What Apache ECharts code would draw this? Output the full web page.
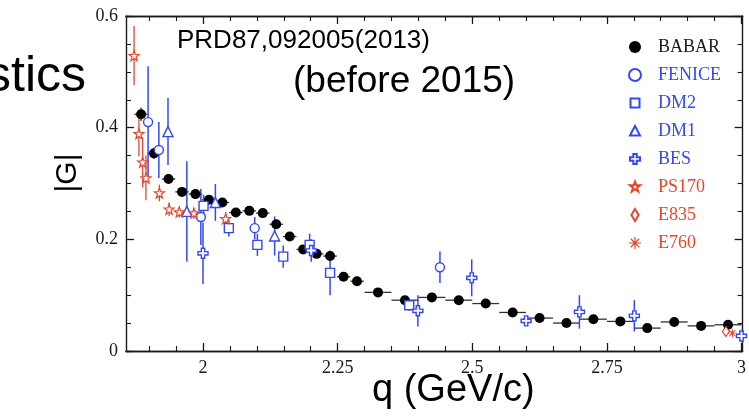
<!DOCTYPE html>
<html>
<head>
<meta charset="utf-8">
<script src="https://cdn.jsdelivr.net/npm/echarts@6/dist/echarts.min.js"></script>
<style>
  html, body { margin: 0; padding: 0; background: #fff; }
  #chart { width: 749px; height: 416px; }
</style>
</head>
<body>
<div id="chart"></div>
<script>
// Proton form factor |G| versus q; each row is [q, |G|, d|G|, dq]
const BABAR = [
  [1.885, 0.424, 0.012, 0.0125], [1.909, 0.354, 0.010, 0.0125], [1.936, 0.308, 0.008, 0.0125],
  [1.961, 0.285, 0.007, 0.0125], [1.986, 0.281, 0.007, 0.0125], [2.011, 0.271, 0.006, 0.0125],
  [2.036, 0.266, 0.006, 0.0125], [2.061, 0.248, 0.006, 0.0125], [2.086, 0.251, 0.006, 0.0125],
  [2.111, 0.247, 0.006, 0.0125], [2.136, 0.227, 0.008, 0.0125], [2.161, 0.205, 0.006, 0.0125],
  [2.186, 0.182, 0.006, 0.0125], [2.211, 0.174, 0.006, 0.0125], [2.236, 0.170, 0.008, 0.0125],
  [2.261, 0.133, 0.006, 0.0125], [2.286, 0.125, 0.006, 0.0125], [2.325, 0.105, 0.005, 0.025],
  [2.375, 0.091, 0.005, 0.025], [2.425, 0.096, 0.005, 0.025], [2.475, 0.091, 0.005, 0.025],
  [2.525, 0.085, 0.005, 0.025], [2.575, 0.069, 0.005, 0.025], [2.625, 0.059, 0.005, 0.025],
  [2.675, 0.050, 0.005, 0.025], [2.725, 0.057, 0.005, 0.025], [2.775, 0.053, 0.005, 0.025],
  [2.825, 0.041, 0.005, 0.025], [2.875, 0.052, 0.005, 0.025], [2.925, 0.045, 0.005, 0.025],
  [2.975, 0.047, 0.005, 0.025]
];
const FENICE = [
  [1.898, 0.410, 0.100, 0], [1.918, 0.360, 0.050, 0], [1.996, 0.240, 0.050, 0],
  [2.096, 0.220, 0.020, 0], [2.440, 0.150, 0.028, 0]
];
const DM2 = [
  [2.001, 0.260, 0.020, 0], [2.048, 0.220, 0.015, 0], [2.101, 0.190, 0.020, 0],
  [2.149, 0.169, 0.020, 0], [2.198, 0.190, 0.020, 0], [2.236, 0.140, 0.040, 0],
  [2.383, 0.082, 0.010, 0]
];
const DM1 = [
  [1.935, 0.393, 0.060, 0], [1.970, 0.250, 0.090, 0], [2.023, 0.266, 0.033, 0],
  [2.133, 0.206, 0.035, 0]
];
const BES = [
  [2.000, 0.175, 0.055, 0], [2.201, 0.180, 0.020, 0], [2.399, 0.072, 0.028, 0],
  [2.499, 0.131, 0.033, 0], [2.600, 0.054, 0.006, 0], [2.699, 0.070, 0.030, 0],
  [2.801, 0.063, 0.028, 0], [3.000, 0.027, 0.006, 0]
];
const PS170 = [
  [1.872, 0.529, 0.053, 0], [1.881, 0.389, 0.040, 0], [1.888, 0.338, 0.045, 0],
  [1.894, 0.310, 0.040, 0], [1.919, 0.283, 0.015, 0], [1.937, 0.254, 0.012, 0],
  [1.956, 0.249, 0.010, 0], [1.983, 0.247, 0.010, 0], [2.042, 0.237, 0.012, 0]
];
const E835 = [[2.971, 0.035, 0.004, 0]];
const E760 = [[2.983, 0.032, 0.004, 0]];

const xMajorTicks = [2, 2.25, 2.5, 2.75, 3];
const xMinorTicks = [1.9, 1.95, 2.05, 2.1, 2.15, 2.2, 2.3, 2.35, 2.4, 2.45,
                     2.55, 2.6, 2.65, 2.7, 2.8, 2.85, 2.9, 2.95];

const BLUE = '#3448f2';
const RED = '#e4472c';
const INK = '#1a1a1a';

const STAR = 'path://M0,-10L2.35,-3.24L9.51,-3.09L3.8,1.24L5.88,8.09L0,4L-5.88,8.09L-3.8,1.24L-9.51,-3.09L-2.35,-3.24Z';
const PLUS = 'path://M-1,-3L1,-3L1,-1L3,-1L3,1L1,1L1,3L-1,3L-1,1L-3,1L-3,-1L-1,-1Z';
const ASTER = 'path://M-0.5,-5L0.5,-5L0.5,5L-0.5,5Z M-5,-0.5L5,-0.5L5,0.5L-5,0.5Z ' +
  'M-3.18,-3.89L3.89,3.18L3.18,3.89L-3.89,-3.18Z M-3.89,3.18L3.18,-3.89L3.89,-3.18L-3.18,3.89Z';
// Square-boxed icon shapes for the legend so they keep their proportions
const ICON_RECT = 'path://M-6,-6 M6,6 M-4.5,-4.5L4.5,-4.5L4.5,4.5L-4.5,4.5Z';
const ICON_TRI = 'path://M-6,-6 M6,6 M0,-5L5,4.5L-5,4.5Z';
const ICON_DIAMOND = 'path://M-6,-6 M6,6 M0,-6L3.6,0L0,6L-3.6,0Z';
const ICON_PLUS = 'path://M-6,-6 M6,6 M-1.7,-5L1.7,-5L1.7,-1.7L5,-1.7L5,1.7L1.7,1.7L1.7,5L-1.7,5L-1.7,1.7L-5,1.7L-5,-1.7L-1.7,-1.7Z';
const ICON_STAR = 'path://M-11,-11 M11,11 ' + STAR.slice(7);

// Error bars: vertical |G| uncertainty, horizontal bin half-width when given
function errorBars(name, rows, color, width) {
  return {
    type: 'custom',
    name: name + ' err',
    data: rows,
    encode: { x: 0, y: 1 },
    z: 2,
    silent: true,
    renderItem: function (params, api) {
      const q = api.value(0), g = api.value(1), dg = api.value(2), dq = api.value(3);
      const children = [];
      const lo = api.coord([q, g - dg]), hi = api.coord([q, g + dg]);
      children.push({ type: 'line', shape: { x1: lo[0], y1: lo[1], x2: hi[0], y2: hi[1] },
        style: { stroke: color, lineWidth: width } });
      if (dq > 0) {
        const l = api.coord([q - dq, g]), r = api.coord([q + dq, g]);
        children.push({ type: 'line', shape: { x1: l[0], y1: l[1], x2: r[0], y2: r[1] },
          style: { stroke: color, lineWidth: width } });
      }
      return { type: 'group', children: children };
    }
  };
}

function markers(name, rows, symbol, size, fill, stroke, bw) {
  return {
    type: 'scatter',
    name: name,
    data: rows.map(function (d) { return [d[0], d[1]]; }),
    symbol: symbol,
    symbolSize: size,
    z: 3,
    itemStyle: { color: fill, borderColor: stroke, borderWidth: bw, opacity: 1 },
    emphasis: { disabled: true }
  };
}

const chart = echarts.init(document.getElementById('chart'), null, { renderer: 'canvas' });

const serif = 'Liberation Serif, Times New Roman, serif';
const sans = 'Liberation Sans, Arial, Helvetica, sans-serif';

const xBase = { type: 'value', min: 1.857, max: 3.002, splitLine: { show: false },
  axisLine: { show: true, lineStyle: { color: INK, width: 1.4 } } };
const yBase = { type: 'value', min: 0, max: 0.6, interval: 0.2, splitLine: { show: false },
  axisLine: { show: true, lineStyle: { color: INK, width: 1.4 } } };

const legendItems = [
  { name: 'BABAR', color: INK, icon: 'circle' },
  { name: 'FENICE', color: BLUE, icon: 'circle' },
  { name: 'DM2', color: BLUE, icon: ICON_RECT },
  { name: 'DM1', color: BLUE, icon: ICON_TRI },
  { name: 'BES', color: BLUE, icon: ICON_PLUS },
  { name: 'PS170', color: RED, icon: ICON_STAR },
  { name: 'E835', color: RED, icon: ICON_DIAMOND },
  { name: 'E760', color: RED, icon: ASTER }
];

chart.setOption({
  animation: false,
  backgroundColor: '#fff',
  grid: { left: 126, right: 5, top: 16, bottom: 65 },
  xAxis: [
    Object.assign({}, xBase, { position: 'bottom',
      axisTick: { show: true, inside: true, length: 8, customValues: xMajorTicks, lineStyle: { color: INK, width: 1.3 } },
      axisLabel: { show: true, customValues: xMajorTicks, margin: 8, color: INK,
        fontFamily: serif, fontSize: 18, formatter: function (v) { return String(+v.toFixed(2)); } } }),
    Object.assign({}, xBase, { position: 'bottom',
      axisTick: { show: true, inside: true, length: 5, customValues: xMinorTicks, lineStyle: { color: INK, width: 1.1 } },
      axisLabel: { show: false } }),
    Object.assign({}, xBase, { position: 'top',
      axisTick: { show: true, inside: true, length: 8, customValues: xMajorTicks, lineStyle: { color: INK, width: 1.3 } },
      axisLabel: { show: false } }),
    Object.assign({}, xBase, { position: 'top',
      axisTick: { show: true, inside: true, length: 5, customValues: xMinorTicks, lineStyle: { color: INK, width: 1.1 } },
      axisLabel: { show: false } })
  ],
  yAxis: [
    Object.assign({}, yBase, { position: 'left',
      axisTick: { show: true, inside: true, length: 8, lineStyle: { color: INK, width: 1.3 } },
      minorTick: { show: true, splitNumber: 4, length: 5, lineStyle: { color: INK, width: 1.1 } },
      axisLabel: { show: true, margin: 8, color: INK, fontFamily: serif, fontSize: 18,
        formatter: function (v) { return v === 0 ? '0' : v.toFixed(1); } } }),
    Object.assign({}, yBase, { position: 'right',
      axisTick: { show: true, inside: true, length: 8, lineStyle: { color: INK, width: 1.3 } },
      minorTick: { show: true, splitNumber: 4, length: 5, lineStyle: { color: INK, width: 1.1 } },
      axisLabel: { show: false } })
  ],
  legend: {
    orient: 'vertical',
    left: 623,
    top: 33,
    itemWidth: 12,
    itemHeight: 12,
    itemGap: 10,
    selectedMode: false,
    textStyle: { fontFamily: serif, fontSize: 18, padding: [0, 0, 0, 12] },
    data: legendItems.map(function (it) {
      return { name: it.name, icon: it.icon, textStyle: { color: it.color } };
    })
  },
  series: [
    errorBars('BABAR', BABAR, '#333', 1.3),
    errorBars('FENICE', FENICE, BLUE, 1.5),
    errorBars('DM2', DM2, BLUE, 1.5),
    errorBars('DM1', DM1, BLUE, 1.5),
    errorBars('BES', BES, BLUE, 1.5),
    errorBars('PS170', PS170, RED, 1.3),
    errorBars('E835', E835, RED, 1.2),
    errorBars('E760', E760, RED, 1.2),
    markers('BABAR', BABAR, 'circle', 10, '#000', '#000', 0),
    markers('FENICE', FENICE, 'circle', 9, '#fff', BLUE, 1.4),
    markers('DM2', DM2, 'rect', 9, '#fff', BLUE, 1.4),
    markers('DM1', DM1, 'triangle', 10, '#fff', BLUE, 1.4),
    markers('BES', BES, PLUS, 10, '#fff', BLUE, 1.4),
    markers('PS170', PS170, STAR, 10, '#fff', RED, 1.2),
    markers('E835', E835, 'diamond', [7, 10], '#fff', RED, 1.2),
    markers('E760', E760, ASTER, 9, RED, RED, 0)
  ],
  graphic: [
    { type: 'text', x: 86, y: 77, style: { text: 'stics', font: '50px ' + sans,
      fill: '#000', textAlign: 'right', textVerticalAlign: 'middle' } },
    { type: 'text', x: 68, y: 173, rotation: Math.PI / 2, style: { text: '|G|', font: '30px ' + sans,
      fill: '#000', textAlign: 'center', textVerticalAlign: 'middle' } },
    { type: 'text', x: 372, y: 391, style: { text: 'q (GeV/c)', font: '38px ' + sans,
      fill: '#000', textAlign: 'left', textVerticalAlign: 'middle' } },
    { type: 'text', x: 177, y: 41, style: { text: 'PRD87,092005(2013)', font: '26px ' + sans,
      fill: '#000', textAlign: 'left', textVerticalAlign: 'middle' } },
    { type: 'text', x: 293, y: 82, style: { text: '(before 2015)', font: '37px ' + sans,
      fill: '#000', textAlign: 'left', textVerticalAlign: 'middle' } }
  ]
});
</script>
</body>
</html>
